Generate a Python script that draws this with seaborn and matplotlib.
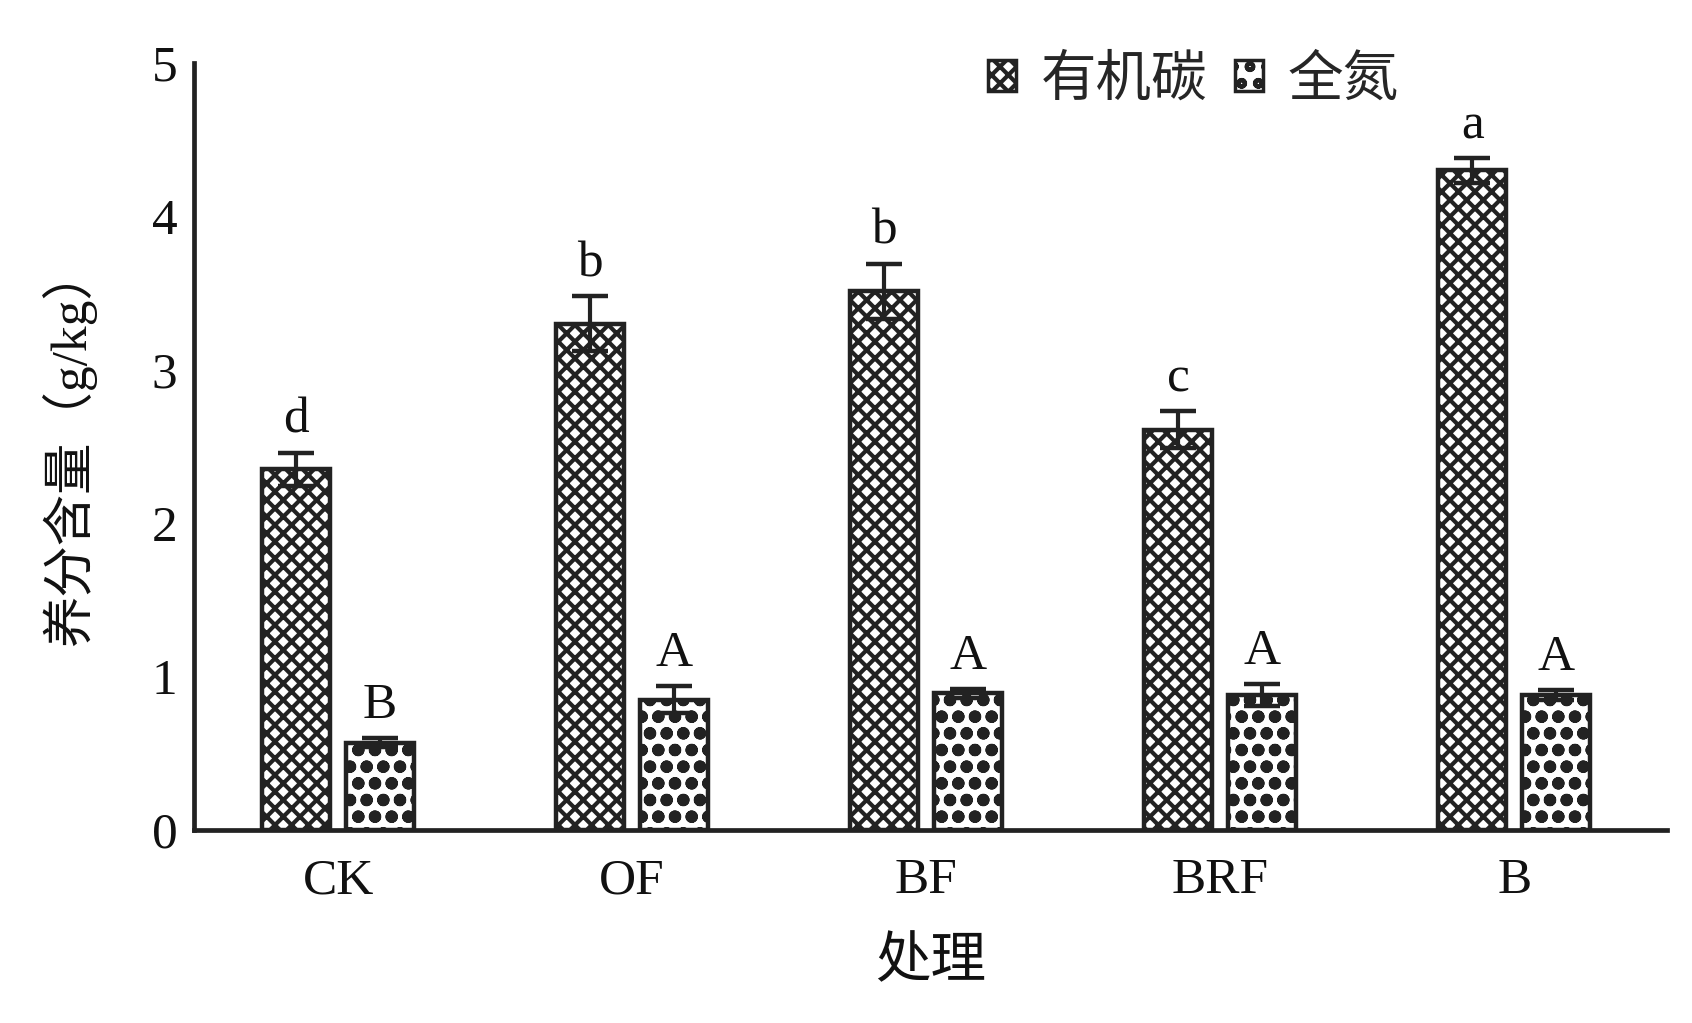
import matplotlib
matplotlib.use("Agg")
import matplotlib.pyplot as plt
import seaborn as sns
import pandas as pd
from matplotlib.patches import Patch

# Data
treatments = ["CK", "OF", "BF", "BRF", "B"]
carbon = [2.35, 3.30, 3.51, 2.61, 4.30]
carbon_err = [0.11, 0.18, 0.18, 0.12, 0.08]
nitrogen = [0.57, 0.85, 0.89, 0.88, 0.88]
nitrogen_err = [0.03, 0.09, 0.03, 0.07, 0.03]
carbon_letters = ["d", "b", "b", "c", "a"]
nitrogen_letters = ["B", "A", "A", "A", "A"]
series = ["有机碳", "全氮"]

sns.set_theme(style="white")
plt.rcParams['font.family'] = ['Liberation Serif', 'Noto Sans CJK SC']
plt.rcParams['hatch.linewidth'] = 3.0
plt.rcParams['hatch.color'] = '#1a1a1a'

EDGE = '#222222'
HATCHES = {"有机碳": 'xx', "全氮": 'o'}
HATCH_LW = {"有机碳": 3.0, "全氮": 4.2}

df = pd.DataFrame({
    'treatment': treatments * 2,
    'value': carbon + nitrogen,
    'err': carbon_err + nitrogen_err,
    'letter': carbon_letters + nitrogen_letters,
    'series': [series[0]] * 5 + [series[1]] * 5,
})


def style_patch(p, s):
    p.set_hatch(HATCHES[s])
    if hasattr(p, 'set_hatch_linewidth'):
        p.set_hatch_linewidth(HATCH_LW[s])


fig = plt.figure(figsize=(16.92, 10.23), dpi=100)
ax = fig.add_axes([0.1147, 0.1887, 0.8706, 0.7498])

sns.barplot(data=df, x='treatment', y='value', hue='series', hue_order=series,
            order=treatments, width=0.57, gap=0.19, errorbar=None,
            palette=['white', 'white'], edgecolor=EDGE,
            linewidth=3.2, legend=False, ax=ax)

# patches come out series by series, in treatment order
for i, p in enumerate(ax.patches[:10]):
    s = series[i // 5]
    style_patch(p, s)
    row = df[(df['series'] == s)].iloc[i % 5]
    cx = p.get_x() + p.get_width() / 2
    top = p.get_height()
    ax.errorbar(cx, top, yerr=row['err'], fmt='none', ecolor=EDGE,
                elinewidth=3, capsize=13, capthick=3.2, zorder=5)
    ax.text(cx, top + row['err'] + 0.13, row['letter'], ha='center',
            va='baseline', fontsize=37, color='#111111')

ax.set_ylim(0, 5)
ax.set_xlim(-0.49, 4.52)
ax.set_yticks([0, 1, 2, 3, 4, 5])
ax.tick_params(axis='y', direction='in', length=9, width=3, color=EDGE,
               labelsize=37, pad=12, labelcolor='#111111')
ax.tick_params(axis='x', length=0, labelsize=37, pad=20, labelcolor='#111111')

for side in ['top', 'right']:
    ax.spines[side].set_visible(False)
for side in ['left', 'bottom']:
    ax.spines[side].set_linewidth(3.4)
    ax.spines[side].set_color(EDGE)

ax.set_xlabel('处理', fontsize=40, labelpad=24, color='#111111')
ax.set_ylabel('养分含量（g/kg）', fontsize=37, labelpad=40, color='#111111')

handles = []
for s in series:
    h = Patch(facecolor='white', edgecolor=EDGE, linewidth=2.5)
    style_patch(h, s)
    handles.append(h)
leg = ax.legend(handles, series, loc='upper left', bbox_to_anchor=(0.505, 1.075),
                ncol=2, frameon=False, fontsize=40, handlelength=0.5,
                handleheight=0.5, handletextpad=0.45, columnspacing=0.5)

fig.savefig('out.png', dpi=100)
